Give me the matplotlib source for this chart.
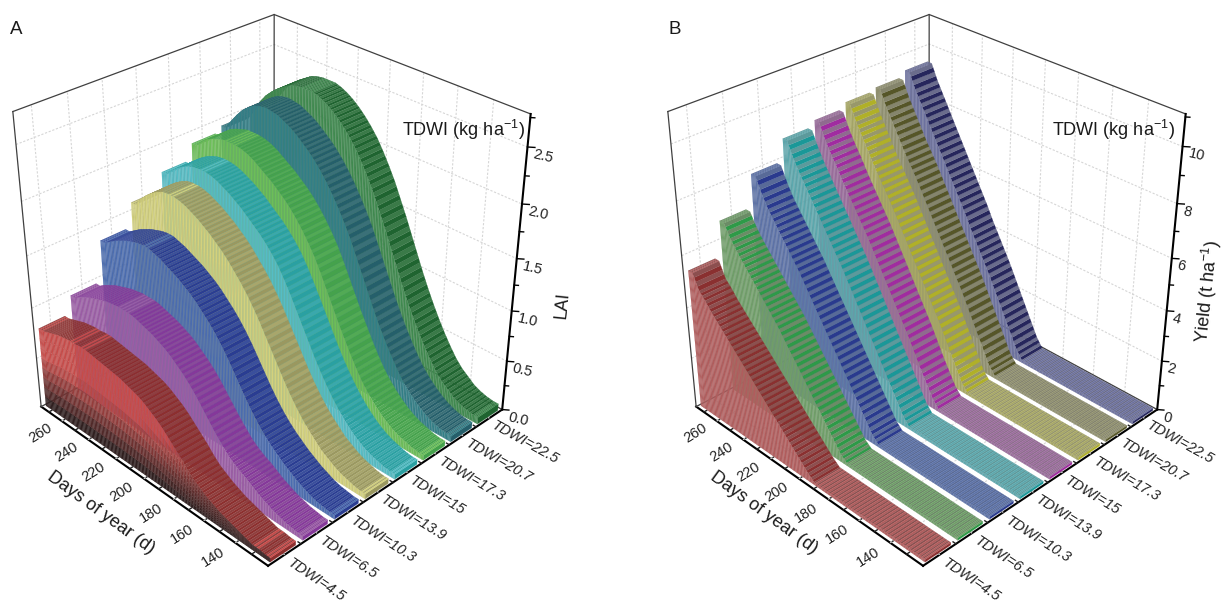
import matplotlib
matplotlib.use("Agg")
import matplotlib.pyplot as plt
import numpy as np
from mpl_toolkits.mplot3d import proj3d
from mpl_toolkits.mplot3d.art3d import Poly3DCollection

plt.rcParams["font.family"] = ["Liberation Sans", "DejaVu Sans"]
plt.rcParams["mathtext.fontset"] = "custom"
plt.rcParams["mathtext.rm"] = "Liberation Sans"
plt.rcParams["mathtext.default"] = "regular"

W, H = 1226, 604
BOX = 520  # square axes size, px

days = [124, 128, 132, 136, 140, 144, 148, 152, 156, 160, 164, 168, 172, 176, 180, 184, 188, 192, 196,
        200, 204, 208, 212, 216, 220, 224, 228, 232, 236, 240, 244, 248, 252, 256, 260, 264, 268, 272]
tdwi_labels = ["TDWI=4.5", "TDWI=6.5", "TDWI=10.3", "TDWI=13.9", "TDWI=15", "TDWI=17.3", "TDWI=20.7", "TDWI=22.5"]

lai_45 = [0.04, 0.05, 0.05, 0.07, 0.09, 0.11, 0.13, 0.15, 0.18, 0.21, 0.25, 0.29, 0.35, 0.42, 0.48, 0.54, 0.60, 0.65, 0.69,
          0.73, 0.76, 0.78, 0.80, 0.82, 0.83, 0.84, 0.85, 0.86, 0.87, 0.88, 0.88, 0.87, 0.87, 0.86, 0.85, 0.83, 0.81, 0.79]
lai_65 = [0.04, 0.05, 0.06, 0.08, 0.10, 0.13, 0.16, 0.20, 0.24, 0.27, 0.31, 0.36, 0.43, 0.50, 0.58, 0.66, 0.74, 0.81, 0.87,
          0.92, 0.97, 1.01, 1.04, 1.07, 1.09, 1.11, 1.13, 1.14, 1.14, 1.14, 1.13, 1.12, 1.10, 1.08, 1.06, 1.03, 1.00, 0.96]
lai_103 = [0.04, 0.05, 0.06, 0.08, 0.11, 0.14, 0.18, 0.22, 0.27, 0.32, 0.38, 0.45, 0.53, 0.62, 0.72, 0.82, 0.92, 1.01, 1.09,
           1.16, 1.22, 1.28, 1.33, 1.37, 1.41, 1.44, 1.47, 1.50, 1.52, 1.54, 1.54, 1.53, 1.51, 1.49, 1.46, 1.43, 1.39, 1.35]
lai_139 = [0.05, 0.06, 0.08, 0.10, 0.13, 0.17, 0.21, 0.27, 0.33, 0.40, 0.48, 0.57, 0.67, 0.78, 0.89, 1.00, 1.11, 1.21, 1.30,
           1.38, 1.45, 1.52, 1.58, 1.63, 1.68, 1.72, 1.76, 1.79, 1.82, 1.84, 1.85, 1.85, 1.84, 1.81, 1.77, 1.72, 1.66, 1.58]
lai_15 = [0.05, 0.06, 0.08, 0.10, 0.13, 0.17, 0.22, 0.28, 0.35, 0.43, 0.52, 0.62, 0.73, 0.85, 0.97, 1.09, 1.21, 1.32, 1.42,
          1.50, 1.57, 1.63, 1.68, 1.73, 1.78, 1.82, 1.86, 1.89, 1.92, 1.94, 1.95, 1.95, 1.94, 1.92, 1.89, 1.85, 1.80, 1.74]
lai_173 = [0.05, 0.06, 0.08, 0.10, 0.13, 0.17, 0.22, 0.28, 0.35, 0.43, 0.53, 0.64, 0.76, 0.88, 1.01, 1.14, 1.27, 1.39, 1.49,
           1.58, 1.66, 1.73, 1.79, 1.84, 1.89, 1.93, 1.97, 2.01, 2.04, 2.06, 2.07, 2.07, 2.07, 2.05, 2.03, 2.00, 1.95, 1.89]
lai_207 = [0.06, 0.07, 0.09, 0.12, 0.16, 0.21, 0.27, 0.34, 0.43, 0.53, 0.64, 0.76, 0.89, 1.03, 1.17, 1.31, 1.45, 1.57, 1.68,
           1.78, 1.87, 1.95, 2.02, 2.08, 2.13, 2.18, 2.22, 2.25, 2.28, 2.29, 2.30, 2.29, 2.27, 2.23, 2.18, 2.11, 2.03, 1.94]
lai_225 = [0.07, 0.08, 0.10, 0.13, 0.18, 0.23, 0.30, 0.39, 0.49, 0.60, 0.72, 0.85, 0.99, 1.14, 1.29, 1.44, 1.58, 1.72, 1.84,
           1.95, 2.05, 2.13, 2.20, 2.26, 2.31, 2.35, 2.38, 2.40, 2.40, 2.40, 2.39, 2.37, 2.33, 2.29, 2.24, 2.18, 2.10, 2.00]

yield_tail = [0.1, 0.1, 0.1, 0.1, 0.1, 0.1, 0.1, 0.1, 0.1, 0.1, 0.1, 0.1, 0.1, 0.1, 0.1, 0.1, 0.1, 0.1]
yield_45 = yield_tail + [0.3, 0.55, 0.80, 1.05, 1.3, 1.55, 1.8, 2.05, 2.3, 2.55, 2.8, 3.05, 3.3, 3.55, 3.8, 4.05, 4.3, 4.6, 4.85, 5.4]
yield_65 = yield_tail + [0.3, 0.65, 1.0, 1.35, 1.7, 2.05, 2.4, 2.75, 3.1, 3.45, 3.8, 4.1, 4.4, 4.7, 5.0, 5.3, 5.6, 5.9, 6.25, 6.7]
yield_103 = yield_tail + [0.35, 0.75, 1.15, 1.55, 1.95, 2.35, 2.75, 3.15, 3.55, 3.95, 4.35, 4.75, 5.15, 5.5, 5.85, 6.2, 6.55, 6.9, 7.35, 7.9]
yield_139 = yield_tail + [0.4, 0.85, 1.3, 1.75, 2.2, 2.65, 3.1, 3.55, 4.0, 4.45, 4.9, 5.3, 5.7, 6.1, 6.5, 6.9, 7.3, 7.7, 8.15, 8.7]
yield_15 = yield_tail + [0.4, 0.85, 1.3, 1.8, 2.3, 2.75, 3.2, 3.65, 4.1, 4.55, 5.0, 5.45, 5.85, 6.25, 6.65, 7.05, 7.5, 7.9, 8.35, 8.9]
yield_173 = yield_tail + [0.4, 0.9, 1.4, 1.9, 2.4, 2.85, 3.3, 3.75, 4.2, 4.65, 5.1, 5.55, 6.0, 6.4, 6.8, 7.2, 7.65, 8.1, 8.55, 9.1]
yield_207 = yield_tail + [0.4, 0.9, 1.4, 1.9, 2.4, 2.9, 3.35, 3.8, 4.25, 4.7, 5.15, 5.6, 6.05, 6.5, 6.9, 7.3, 7.75, 8.2, 8.65, 9.2]
yield_225 = yield_tail + [0.45, 0.95, 1.45, 1.95, 2.45, 2.95, 3.4, 3.85, 4.3, 4.8, 5.25, 5.7, 6.15, 6.6, 7.05, 7.5, 7.95, 8.4, 8.85, 9.4]

lai_series = [lai_45, lai_65, lai_103, lai_139, lai_15, lai_173, lai_207, lai_225]
yield_series = [yield_45, yield_65, yield_103, yield_139, yield_15, yield_173, yield_207, yield_225]

# (wall, roof, riser)
lai_colors = [("#c94a48", "#8f3f3e", "#8c2f2e"), ("#9b5ca6", "#8a4a9a", "#85389a"), ("#4a6cb0", "#3a4f9c", "#2a3d92"),
              ("#d3d17c", "#a8a66c", "#9a9860"), ("#55bdc5", "#3aa8ac", "#2aa0a2"), ("#6cbf58", "#52aa55", "#45a24c"),
              ("#327f87", "#3a7078", "#255f6b"), ("#3f8a4f", "#3a7a48", "#1f6430")]
yield_colors = [("#b25c5c", "#8c4f4f", "#8a3030"), ("#6f9f68", "#6b8c66", "#2e9a48"), ("#5c72a8", "#586a98", "#2a3a8e"),
                ("#5ba8ae", "#5c9a9c", "#1a9898"), ("#9a6c9c", "#8f6b8f", "#a02ca0"), ("#a9a964", "#98986a", "#b0b028"),
                ("#90906e", "#85856c", "#565628"), ("#6c719f", "#6a6c8c", "#26265c")]

# camera, calibrated on the corners of the box
ELEV, AZIM, FOCAL = 31.3371, -134.3349, 0.5494
ASP_X, ASP_Z, ZOOM = 1.0017, 0.9998, 1.1150
CX, CY = 264.3291, 276.0063

fig = plt.figure(figsize=(W / 100, H / 100), dpi=100)


def add_axes(cx, cy):
    return fig.add_axes([(cx - BOX / 2) / W, 1 - (cy + BOX / 2) / H, BOX / W, BOX / H], projection="3d")


def mix(c1, c2, t):
    return tuple(np.array(matplotlib.colors.to_rgb(c1)) * (1 - t) + np.array(matplotlib.colors.to_rgb(c2)) * t)


def draw_ribbons(ax, series, colors, zmax, gradient_first=False):
    half_w = 0.39
    n_sub = 4  # stripes per step along the days axis
    y_lo, y_hi = ax.get_ylim()[0] + 1, ax.get_ylim()[1] - 1
    for i, (vals, col) in enumerate(zip(series, colors)):
        wall_col, roof_col, riser_col = col
        x0, x1 = i + 1 - half_w, i + 1 + half_w
        ys = [y_lo] + days + [y_hi]
        vs = [vals[0]] + list(vals) + [vals[-1]]
        top_faces = [[(x0, y_lo, 0), (x1, y_lo, 0), (x1, y_lo, vs[0]), (x0, y_lo, vs[0])]]
        top_cols = [riser_col]
        wall_faces, wall_cols = [], []
        wall_alt = mix(wall_col, "#808080", 0.15)
        for a in range(len(ys) - 1):
            second = wall_col if vs[a + 1] == vs[a] else riser_col
            for s in range(n_sub):
                t0, t1 = s / n_sub, (s + 1) / n_sub
                ya, yb = ys[a] + (ys[a + 1] - ys[a]) * t0, ys[a] + (ys[a + 1] - ys[a]) * t1
                za, zb = vs[a] + (vs[a + 1] - vs[a]) * t0, vs[a] + (vs[a + 1] - vs[a]) * t1
                top_faces.append([(x0, ya, za), (x1, ya, za), (x1, yb, zb), (x0, yb, zb)])
                top_cols.append(roof_col if s % 2 else second)
                base_col = wall_col if s % 2 else wall_alt
                if gradient_first and i == 0:
                    # dark at the base, red towards the top
                    levels = np.linspace(0, 1, 9)
                    for lo, hi in zip(levels[:-1], levels[1:]):
                        wall_faces.append([(x0, ya, za * lo), (x0, yb, zb * lo), (x0, yb, zb * hi), (x0, ya, za * hi)])
                        wall_cols.append(mix("#302020", base_col, min(za * lo / 0.48, 1)))
                else:
                    wall_faces.append([(x0, ya, 0), (x0, yb, 0), (x0, yb, zb), (x0, ya, za)])
                    wall_cols.append(base_col)
        top = Poly3DCollection(top_faces, facecolors=top_cols, edgecolors=top_cols, linewidths=0.15)
        top.set_zorder(10 + 2 * (8 - i))
        top.set_clip_on(False)
        ax.add_collection3d(top, autolim=False)
        wall = Poly3DCollection(wall_faces, facecolors=wall_cols, edgecolors=wall_cols, linewidths=0.15)
        wall.set_zorder(11 + 2 * (8 - i))
        wall.set_clip_on(False)
        ax.add_collection3d(wall, autolim=False)


def style_axes(ax, zmax, zticks, zlabels, zmajor):
    ax.view_init(ELEV, AZIM)
    ax.set_proj_type("persp", focal_length=FOCAL)
    ax.set_box_aspect((ASP_X, 1, ASP_Z), zoom=ZOOM)
    ax.computed_zorder = False
    ax.set_xlim(0.5, 8.5)
    ax.set_ylim(120, 276)
    ax.set_zlim(0, zmax)
    ax.grid(False)

    xticks = np.arange(1, 8.5, 0.5)
    ax.set_xticks(xticks)
    ax.set_xticklabels([tdwi_labels[int(t) - 1] if t == int(t) else "" for t in xticks],
                       fontstyle="italic", fontsize=10.5, ha="left", va="center", rotation_mode="anchor")
    for t, lab in zip(xticks, ax.get_xticklabels()):
        lab.set_rotation(-34 + (t - 1) * 0.7)
    yticks = np.arange(130, 271, 10)
    ax.set_yticks(yticks)
    ax.set_yticklabels([str(t) if t % 20 == 0 else "" for t in yticks], fontsize=10.5, rotation=32,
                       ha="right", va="center")
    ax.tick_params(axis="x", pad=-5, colors="#222222")
    ax.tick_params(axis="y", pad=-2, colors="#222222")

    for axis in (ax.xaxis, ax.yaxis, ax.zaxis):
        axis.set_pane_color((1, 1, 1, 0))
        axis.pane.set_edgecolor((1, 1, 1, 0))
        axis.line.set_color("black")
        axis.line.set_linewidth(1.5)
        axis._axinfo["tick"].update(inward_factor=0.0, outward_factor=0.14, linewidth={True: 1.0, False: 0.8}, color="k")
        axis.set_rotate_label(False)

    xl, yl = ax.get_xlim(), ax.get_ylim()

    # mplot3d keeps its z axis on the left here, the chart has it at the right corner
    ax.set_zticks([])
    ax.zaxis.line.set_color((0, 0, 0, 0))
    ax.plot([xl[1], xl[1]], [yl[0], yl[0]], [0, zmax], color="black", linewidth=1.5, clip_on=False, zorder=40)
    M = ax.get_proj()
    for z, lab in zip(zticks, zlabels):
        k = 1.0 if lab else 0.6
        ax.plot([xl[1], xl[1] + 0.1 * k], [yl[0], yl[0] - 2.5 * k], [z, z], color="black", linewidth=1.0,
                clip_on=False, zorder=40)
        if lab:
            px, py, _ = proj3d.proj_transform(xl[1] + 0.06, yl[0] - 1.5, z, M)
            ax.text2D(px, py, lab, transform=ax.transData, fontsize=10.5, rotation=-13, ha="left", va="top",
                      color="#222222", zorder=41)

    # back wall grid at the major ticks
    grid = dict(color="#d6d6d6", linewidth=0.8, linestyle=(0, (2, 1.5)), zorder=0.5, clip_on=False)
    for z in zmajor:
        ax.plot([xl[0], xl[1], xl[1]], [yl[1], yl[1], yl[0]], [z, z, z], **grid)
    for y in yticks[1::2]:
        ax.plot([xl[1], xl[1]], [y, y], [0, zmax], **grid)
        ax.plot([xl[0], xl[1]], [y, y], [0, 0], **grid)
    for x in range(1, 9):
        ax.plot([x, x], [yl[1], yl[1]], [0, zmax], **grid)
        ax.plot([x, x], [yl[0], yl[1]], [0, 0], **grid)

    # frame of the back walls
    frame = dict(color="#404040", linewidth=0.9, zorder=1, clip_on=False)
    ax.plot([xl[0], xl[1], xl[1]], [yl[1], yl[1], yl[0]], [zmax, zmax, zmax], **frame)
    ax.plot([xl[1], xl[1]], [yl[1], yl[1]], [0, zmax], **frame)
    ax.plot([xl[0], xl[0]], [yl[1], yl[1]], [0, zmax], **frame)
    ax.plot([xl[0], xl[1], xl[1]], [yl[1], yl[1], yl[0]], [0, 0, 0], **frame)


ax_a = add_axes(CX, CY)
style_axes(ax_a, 2.78, np.arange(0, 2.76, 0.25), ["0.0", "", "0.5", "", "1.0", "", "1.5", "", "2.0", "", "2.5", ""],
           np.arange(0, 2.6, 0.5))
draw_ribbons(ax_a, lai_series, lai_colors, 2.78, gradient_first=True)

ax_b = add_axes(CX + 655, CY)
style_axes(ax_b, 11.1, np.arange(0, 11.1, 1), ["0", "", "2", "", "4", "", "6", "", "8", "", "10", ""],
           np.arange(0, 11, 2))
draw_ribbons(ax_b, yield_series, yield_colors, 11.1)


def label(x, y, text, size=13, rotation=0, ha="center"):
    fig.text(x / W, 1 - y / H, text, fontsize=size, rotation=rotation, ha=ha, va="center",
             rotation_mode="anchor", color="#1a1a1a")


label(10, 30, "A", 13.5, ha="left")
label(668, 30, "B", 13.5, ha="left")
label(402, 130, r"TDWI (kg ha$^{-1}$)", ha="left")
label(1052, 130, r"TDWI (kg ha$^{-1}$)", ha="left")
label(562, 305, "LAI", rotation=84)
label(1207, 292, r"Yield (t ha$^{-1}$)", rotation=84)
label(101, 513, "Days of year (d)", rotation=-36)
label(764, 513, "Days of year (d)", rotation=-36)

fig.savefig("out.png", dpi=100)
